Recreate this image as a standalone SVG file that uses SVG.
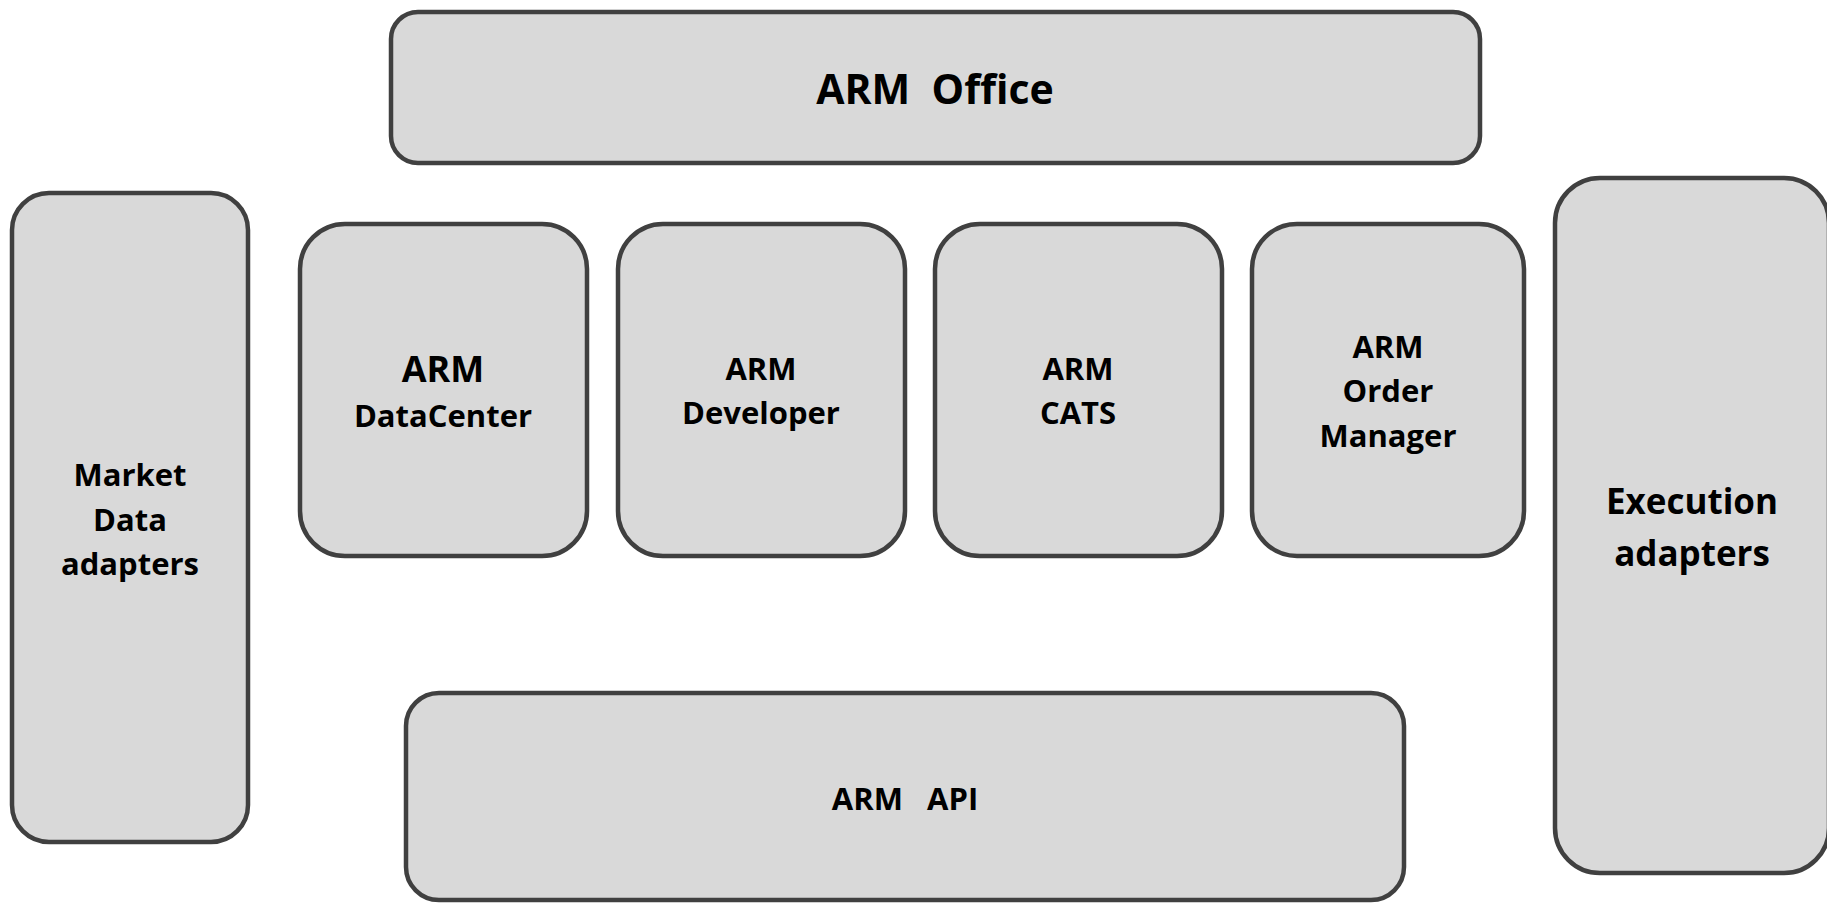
<svg xmlns="http://www.w3.org/2000/svg" width="1827" height="903" viewBox="0 0 1827 903">
<style>
.box{fill:#d9d9d9;stroke:#404040;stroke-width:4.5}
.t{font-family:"Open Sans","Noto Sans",sans-serif;font-weight:700;fill:#000;text-anchor:middle}
.s{font-size:31px}
.m{font-size:36px}
.x{font-size:35px}
.l{font-size:41px}
</style>
<rect width="1827" height="903" fill="#ffffff"/>
<g id="arm-office">
<rect class="box" x="391" y="12" width="1089" height="151" rx="27" ry="27"/>
<text class="t l" x="935" y="104" xml:space="preserve">ARM  Office</text>
</g>
<g id="market-data-adapters">
<rect class="box" x="12" y="193" width="236" height="649" rx="37" ry="37"/>
<text class="t s" x="130" y="486">Market</text>
<text class="t s" x="130" y="531">Data</text>
<text class="t s" x="130" y="575">adapters</text>
</g>
<g id="arm-datacenter">
<rect class="box" x="300" y="224" width="287" height="332" rx="45" ry="45"/>
<text class="t m" x="443" y="382">ARM</text>
<text class="t s" x="443" y="427">DataCenter</text>
</g>
<g id="arm-developer">
<rect class="box" x="618" y="224" width="287" height="332" rx="45" ry="45"/>
<text class="t s" x="761" y="380">ARM</text>
<text class="t s" x="761" y="424">Developer</text>
</g>
<g id="arm-cats">
<rect class="box" x="935" y="224" width="287" height="332" rx="45" ry="45"/>
<text class="t s" x="1078" y="380">ARM</text>
<text class="t s" x="1078" y="424">CATS</text>
</g>
<g id="arm-order-manager">
<rect class="box" x="1252" y="224" width="272" height="332" rx="45" ry="45"/>
<text class="t s" x="1388" y="358">ARM</text>
<text class="t s" x="1388" y="402">Order</text>
<text class="t s" x="1388" y="447">Manager</text>
</g>
<g id="execution-adapters">
<rect class="box" x="1555" y="178" width="274" height="695" rx="45" ry="45"/>
<text class="t x" x="1692" y="514">Execution</text>
<text class="t x" x="1692" y="566">adapters</text>
</g>
<g id="arm-api">
<rect class="box" x="406" y="693" width="998" height="207" rx="33" ry="33"/>
<text class="t s" x="905" y="810" xml:space="preserve">ARM   API</text>
</g>
<g id="connectors"></g>
</svg>
